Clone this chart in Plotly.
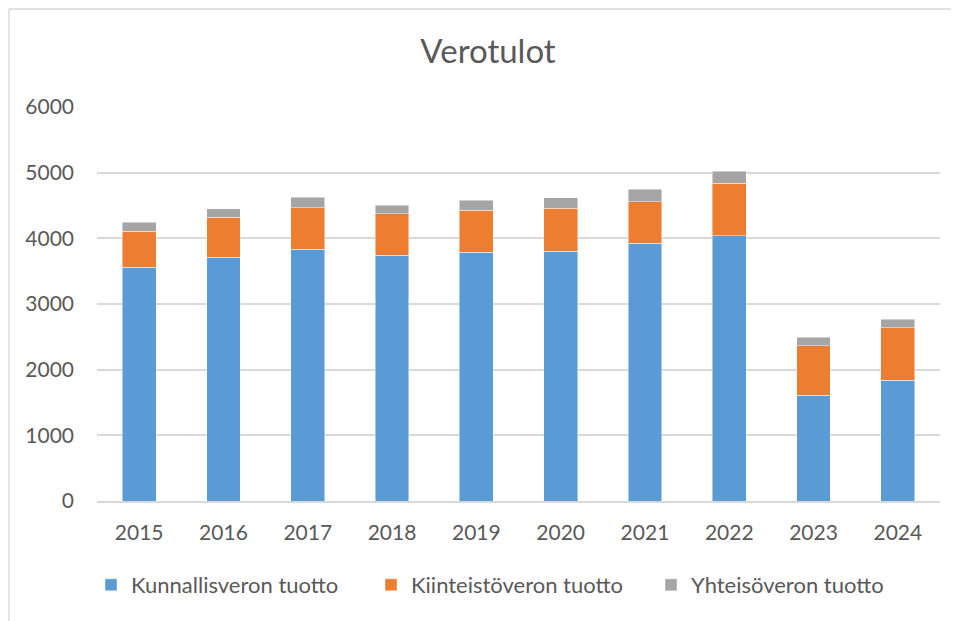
import plotly.graph_objects as go

years = ["2015", "2016", "2017", "2018", "2019", "2020", "2021", "2022", "2023", "2024"]
kunnallisvero = [3557, 3709, 3831, 3740, 3785, 3805, 3922, 4038, 1609, 1837]
kiinteistovero = [548, 609, 634, 633, 644, 650, 634, 802, 755, 801]
yhteisovero = [137, 131, 158, 132, 152, 161, 188, 183, 127, 128]
series_names = ["Kunnallisveron tuotto", "Kiinteistöveron tuotto", "Yhteisöveron tuotto"]
colors = ["#5B9BD5", "#ED7D31", "#A5A5A5"]
y_ticks = [0, 1000, 2000, 3000, 4000, 5000, 6000]

FONT = "Lato"
TXT = "#595959"

fig = go.Figure()
for name, vals, c in zip(series_names, [kunnallisvero, kiinteistovero, yhteisovero], colors):
    fig.add_trace(go.Bar(
        x=years, y=vals, name=name,
        marker=dict(color=c, line=dict(color="rgba(255,255,255,0.6)", width=0.75)),
    ))

# page body has an 8px margin, so the figure is offset by 8px
OFF = 8
W, H = 959 - OFF, 621 - OFF
L, R = 97 - OFF, 19
T = 107 - OFF
B = H - (501 - OFF)
pw = W - L - R
ph = H - T - B
bx = ((9 - OFF) - L) / pw
by = ((501 - OFF) - (9 - OFF)) / ph

fig.update_layout(
    barmode="stack",
    bargap=0.6,
    width=W, height=H,
    margin=dict(l=L, r=R, t=T, b=B),
    paper_bgcolor="white", plot_bgcolor="white",
    font=dict(family=FONT, color=TXT, size=21),
    title=dict(text="Verotulot", x=(488 - OFF) / W, xanchor="center", y=1 - (51 - OFF) / H, yanchor="middle",
               font=dict(family=FONT, size=33, color=TXT)),
    xaxis=dict(showgrid=False, showline=True, linecolor="#D9D9D9", linewidth=1.5,
               tickfont=dict(size=21, color=TXT), ticks="", ticklabelstandoff=12),
    yaxis=dict(range=[0, 6000], tickvals=y_ticks, showgrid=True, gridcolor="#D9D9D9", gridwidth=1.5,
               zeroline=False, showline=False, tickfont=dict(size=21, color=TXT),
               ticks="", ticklabelstandoff=22),
    legend=dict(orientation="h", x=(511 - OFF) / W, xref="container", xanchor="center",
                y=1 - (585 - OFF) / H, yref="container", yanchor="middle",
                font=dict(size=22, color=TXT), traceorder="normal",
                entrywidth=235, entrywidthmode="pixels",
                itemwidth=30, bgcolor="rgba(0,0,0,0)"),
    showlegend=True,
    shapes=[
        dict(type="line", xref="paper", yref="paper", x0=bx, x1=bx, y0=-2, y1=by,
             line=dict(color="#D9D9D9", width=1.5)),
        dict(type="line", xref="paper", yref="paper", x0=bx, x1=2, y0=by, y1=by,
             line=dict(color="#D9D9D9", width=1.5)),
    ],
)

fig.write_html("out.html")
